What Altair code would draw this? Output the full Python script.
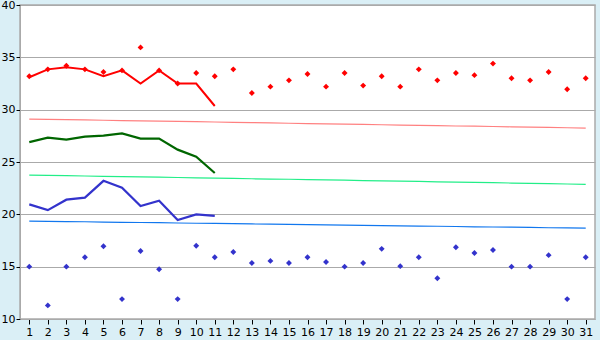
import altair as alt
import pandas as pd

days = list(range(1, 32))
x_ticks = list(range(1, 32))
y_ticks = [10, 15, 20, 25, 30, 35, 40]

red_points = [33.2, 33.85, 34.2, 33.85, 33.6, 33.75, 35.95, 33.75, 32.5, 33.5,
              33.2, 33.85, 31.6, 32.2, 32.8, 33.4, 32.2, 33.5, 32.3, 33.2,
              32.2, 33.85, 32.8, 33.5, 33.3, 34.4, 33.0, 32.8, 33.6, 31.95, 33.0]
blue_points = [15.0, 11.3, 15.0, 15.9, 16.95, 11.9, 16.5, 14.75, 11.9, 17.0,
               15.9, 16.4, 15.35, 15.55, 15.35, 15.9, 15.45, 15.0, 15.35, 16.7,
               15.05, 15.9, 13.9, 16.85, 16.3, 16.6, 15.0, 15.0, 16.1, 11.9, 15.9]

red_line = [33.1, 33.85, 34.05, 33.85, 33.2, 33.75, 32.5, 33.75, 32.5, 32.5, 30.35]
green_line = [26.9, 27.33, 27.13, 27.42, 27.52, 27.74, 27.23, 27.23, 26.18, 25.5, 23.95]
blue_line = [20.95, 20.4, 21.4, 21.6, 23.2, 22.55, 20.8, 21.3, 19.45, 20.0, 19.85]

pink_norm = [29.1, 29.07, 29.05, 29.02, 28.99, 28.96, 28.93, 28.9, 28.88, 28.85,
             28.82, 28.79, 28.76, 28.73, 28.7, 28.67, 28.65, 28.62, 28.59, 28.56,
             28.53, 28.5, 28.47, 28.44, 28.42, 28.39, 28.36, 28.33, 28.3, 28.27, 28.24]
green_norm = [23.75, 23.72, 23.69, 23.66, 23.63, 23.6, 23.57, 23.55, 23.52, 23.49,
              23.46, 23.43, 23.4, 23.37, 23.35, 23.32, 23.29, 23.26, 23.23, 23.2,
              23.17, 23.14, 23.11, 23.08, 23.05, 23.02, 22.99, 22.96, 22.93, 22.9, 22.87]
blue_norm = [19.35, 19.33, 19.31, 19.29, 19.26, 19.24, 19.22, 19.2, 19.17, 19.15,
             19.13, 19.11, 19.08, 19.06, 19.04, 19.02, 18.99, 18.97, 18.95, 18.93,
             18.9, 18.88, 18.86, 18.84, 18.81, 18.79, 18.77, 18.75, 18.72, 18.7, 18.68]

full = pd.DataFrame({"day": days, "red_pt": red_points, "blue_pt": blue_points,
                     "pink": pink_norm, "lgreen": green_norm, "lblue": blue_norm})
part = pd.DataFrame({"day": days[:11], "red": red_line, "green": green_line, "blue": blue_line})

FONT = "DejaVu Sans"
x = alt.X("day:Q", scale=alt.Scale(domain=[0.5, 31.5], nice=False, zero=False),
          axis=alt.Axis(values=x_ticks, title=None, grid=False, labelFontSize=11,
                        labelFont=FONT, labelColor="#000", tickColor="#000", tickSize=5,
                        domainColor="#aaaaaa", labelPadding=2, labelFlush=False))
yscale = alt.Scale(domain=[10, 40], nice=False, zero=False)
yaxis = alt.Axis(values=y_ticks, title=None, grid=True, gridColor="#aaaaaa",
                 labelFontSize=11, labelFont=FONT, labelColor="#000", tickColor="#000",
                 tickSize=4, domainColor="#aaaaaa", labelPadding=1)


def line(df, field, color, width):
    return alt.Chart(df).mark_line(color=color, strokeWidth=width, interpolate="linear").encode(
        x=x, y=alt.Y(f"{field}:Q", scale=yscale, axis=yaxis))


def pts(field, color):
    return alt.Chart(full).mark_point(shape="diamond", filled=True, color=color, size=35, opacity=1).encode(
        x=x, y=alt.Y(f"{field}:Q", scale=yscale, axis=yaxis))


chart = alt.layer(
    line(full, "pink", "#ff8080", 1.2),
    line(full, "lgreen", "#22ee88", 1.2),
    line(full, "lblue", "#1177ee", 1.2),
    line(part, "red", "#ff0000", 2),
    line(part, "green", "#006600", 2.2),
    line(part, "blue", "#3333cc", 2.2),
    pts("red_pt", "#ff0000"),
    pts("blue_pt", "#3333cc"),
).properties(
    width=575, height=314,
    background="#daeff6",
    autosize=alt.AutoSizeParams(type="none"),
    padding={"left": 20, "top": 5, "right": 5, "bottom": 21},
).configure_view(stroke="#aaaaaa", strokeWidth=1.5, fill="#ffffff")

chart.save("out.html", embed_options={"renderer": "svg", "actions": False})
